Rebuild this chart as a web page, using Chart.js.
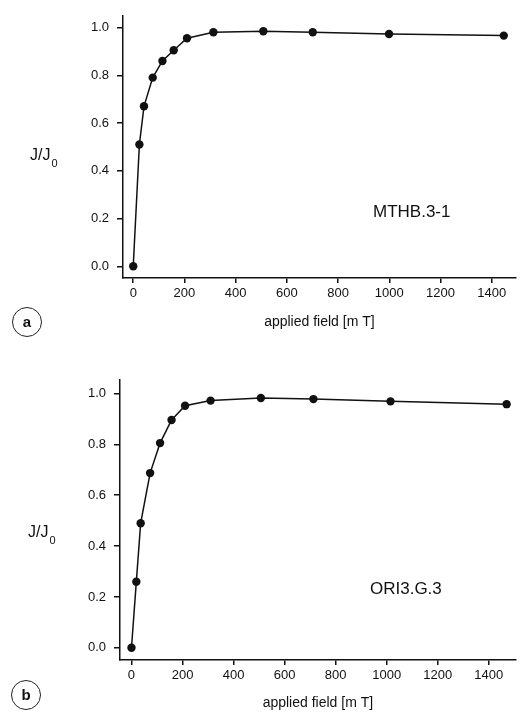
<!DOCTYPE html>
<html>
<head>
<meta charset="utf-8">
<script src="https://cdn.jsdelivr.net/npm/chart.js@4/dist/chart.umd.min.js"></script>
<style>
  html, body { margin: 0; padding: 0; background: #fff; }
  #page { position: relative; width: 520px; height: 715px; font-family: "Liberation Sans", Arial, sans-serif; color: #111; }
  canvas { position: absolute; left: 0; }
  .ylab { position: absolute; font-size: 16px; }
  .ylab sub { font-size: 11px; vertical-align: -7px; margin-left: 1px; }
  .sample { position: absolute; font-size: 17px; }
  .panel { position: absolute; width: 28px; height: 28px; border: 1px solid #222; border-radius: 50%;
           text-align: center; line-height: 28px; font-size: 15px; font-weight: bold; }
</style>
</head>
<body>
<div id="page">
  <canvas id="chartA" width="520" height="340" style="top:0"></canvas>
  <canvas id="chartB" width="520" height="375" style="top:340px"></canvas>
  <div class="ylab" style="left:30px; top:146px">J/J<sub>0</sub></div>
  <div class="ylab" style="left:28px; top:523px">J/J<sub>0</sub></div>
  <div class="sample" style="left:373px; top:202px">MTHB.3-1</div>
  <div class="sample" style="left:370px; top:579px">ORI3.G.3</div>
  <div class="panel" style="left:12px; top:307px">a</div>
  <div class="panel" style="left:11px; top:680px">b</div>
</div>
<script>
// tick labels
const fieldTicks = [0, 200, 400, 600, 800, 1000, 1200, 1400];
const ratioTicks = [0, 0.2, 0.4, 0.6, 0.8, 1.0];

// panel a: MTHB.3-1
const fieldA = [0, 24, 42, 76, 114, 158, 210, 313, 508, 701, 999, 1447];
const ratioA = [0.0, 0.51, 0.67, 0.79, 0.86, 0.905, 0.955, 0.98, 0.984, 0.98, 0.973, 0.966];

// panel b: ORI3.G.3
const fieldB = [0, 19, 36, 73, 112, 157, 210, 310, 507, 713, 1015, 1470];
const ratioB = [0.0, 0.26, 0.49, 0.687, 0.805, 0.896, 0.952, 0.972, 0.982, 0.978, 0.969, 0.958];

const ink = '#111';
const tickFont = { family: '"Liberation Sans", Arial, sans-serif', size: 13 };

function makePanel(id, xs, ys, opts) {
    const ctx = document.getElementById(id).getContext('2d');
    const points = xs.map((x, i) => ({ x: x, y: ys[i] }));

    const config = {
        type: 'line',
        data: {
            datasets: [{
                data: points,
                borderColor: ink,
                borderWidth: 1.5,
                backgroundColor: ink,
                pointRadius: 4.2,
                pointBorderWidth: 0,
                tension: 0
            }]
        },
        options: {
            responsive: false,
            animation: false,
            devicePixelRatio: 1,
            layout: { padding: { top: opts.top, left: 0, right: 0, bottom: 0 } },
            plugins: { legend: { display: false }, tooltip: { enabled: false } },
            scales: {
                x: {
                    type: 'linear',
                    min: opts.xMin,
                    max: opts.xMax,
                    afterBuildTicks: axis => { axis.ticks = fieldTicks.map(v => ({ value: v })); },
                    afterFit: axis => { axis.height = opts.xHeight; },
                    border: { color: ink, width: 1.5 },
                    grid: { drawOnChartArea: false, drawTicks: true, tickLength: 5, tickColor: ink, lineWidth: 1.5 },
                    ticks: { color: ink, font: tickFont, padding: 3, maxRotation: 0, callback: v => String(v) },
                    title: {
                        display: true,
                        text: 'applied field [m T]',
                        color: ink,
                        font: { family: '"Liberation Sans", Arial, sans-serif', size: 14 },
                        padding: { top: 0, bottom: opts.titlePad }
                    }
                },
                y: {
                    min: opts.yMin,
                    max: opts.yMax,
                    afterBuildTicks: axis => { axis.ticks = ratioTicks.map(v => ({ value: v })); },
                    afterFit: axis => { axis.width = opts.yWidth; },
                    border: { color: ink, width: 1.5 },
                    grid: { drawOnChartArea: false, drawTicks: true, tickLength: 6, tickColor: ink, lineWidth: 1.5 },
                    ticks: { color: ink, font: tickFont, padding: 8, callback: v => v.toFixed(1) }
                }
            }
        }
    };

    return new Chart(ctx, config);
}

makePanel('chartA', fieldA, ratioA, {
    top: 8, xHeight: 62, yWidth: 123, titlePad: 9.6,
    xMin: -40, xMax: 1494, yMin: -0.049, yMax: 1.049
});

makePanel('chartB', fieldB, ratioB, {
    top: 39.5, xHeight: 55, yWidth: 120, titlePad: 3.6,
    xMin: -45, xMax: 1506, yMin: -0.048, yMax: 1.055
});
</script>
</body>
</html>
